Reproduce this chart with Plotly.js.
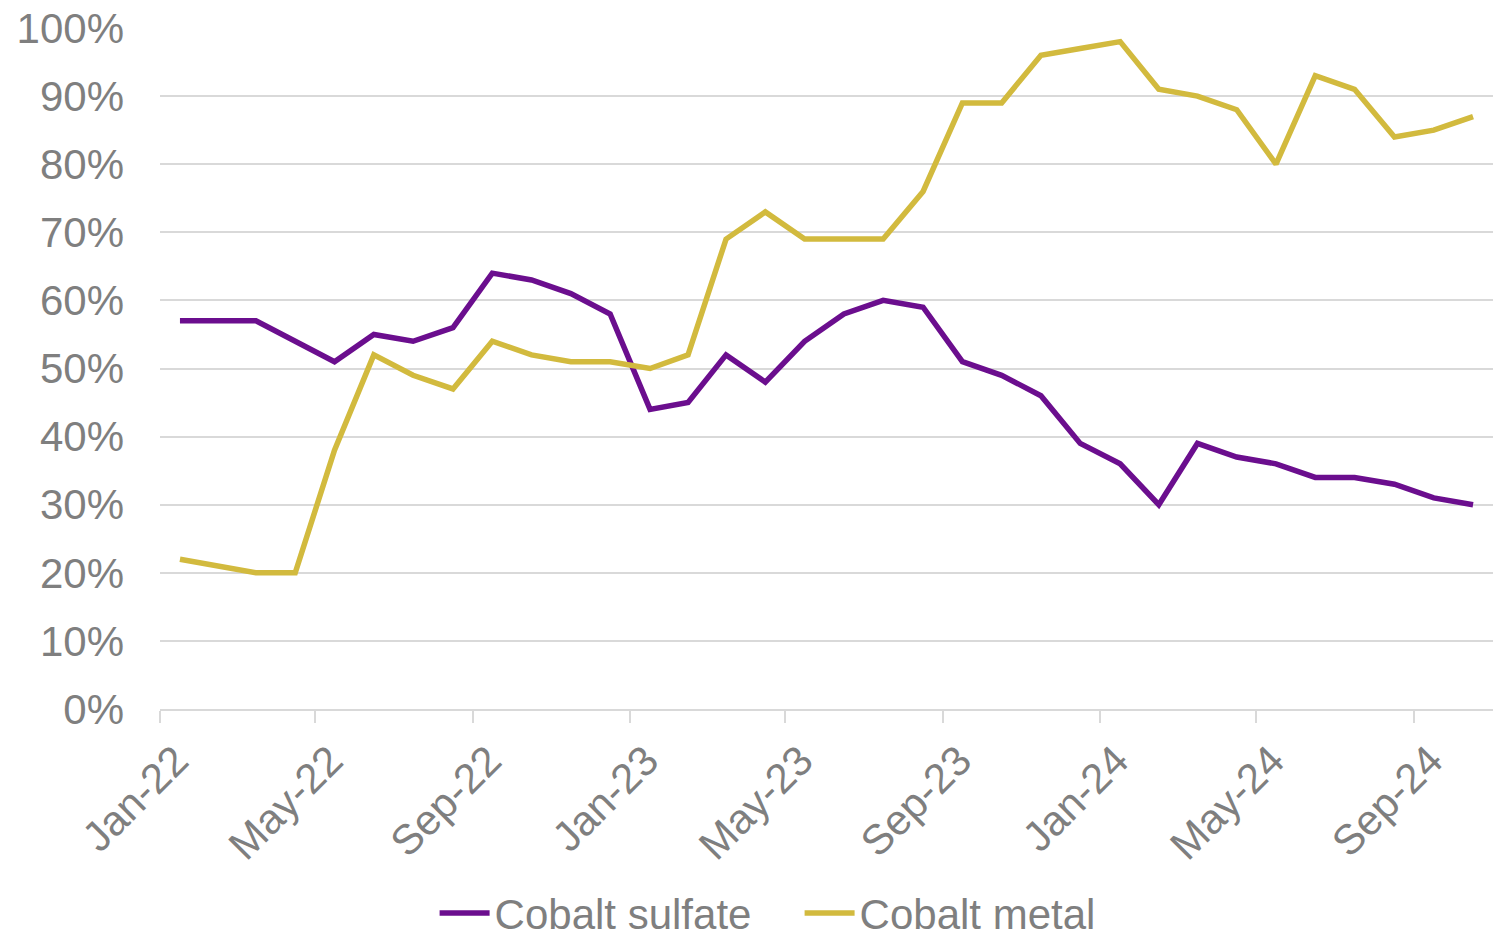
<!DOCTYPE html>
<html>
<head>
<meta charset="utf-8">
<script src="https://cdn.plot.ly/plotly-3.0.1.min.js"></script>
<style>html,body{margin:0;padding:0;background:#fff;}#chart{width:1493px;height:938px;}</style>
</head>
<body>
<div id="chart"></div>
<script>
const months = ['2022-01','2022-02','2022-03','2022-04','2022-05','2022-06','2022-07','2022-08','2022-09','2022-10','2022-11','2022-12',
                '2023-01','2023-02','2023-03','2023-04','2023-05','2023-06','2023-07','2023-08','2023-09','2023-10','2023-11','2023-12',
                '2024-01','2024-02','2024-03','2024-04','2024-05','2024-06','2024-07','2024-08','2024-09','2024-10'];
const cobaltSulfate = [0.57,0.57,0.57,0.54,0.51,0.55,0.54,0.56,0.64,0.63,0.61,0.58,
                       0.44,0.45,0.52,0.48,0.54,0.58,0.60,0.59,0.51,0.49,0.46,0.39,
                       0.36,0.30,0.39,0.37,0.36,0.34,0.34,0.33,0.31,0.30];
const cobaltMetal = [0.22,0.21,0.20,0.20,0.38,0.52,0.49,0.47,0.54,0.52,0.51,0.51,
                     0.50,0.52,0.69,0.73,0.69,0.69,0.69,0.76,0.89,0.89,0.96,0.97,
                     0.98,0.91,0.90,0.88,0.80,0.93,0.91,0.84,0.85,0.87];
const yTicks = [0,0.1,0.2,0.3,0.4,0.5,0.6,0.7,0.8,0.9,1.0];

const traces = [
  {x: months, y: cobaltSulfate, name: 'Cobalt sulfate', type: 'scatter', mode: 'lines',
   xperiod: 'M1', xperiodalignment: 'middle',
   line: {color: '#6B0E8E', width: 5.5}},
  {x: months, y: cobaltMetal, name: 'Cobalt metal', type: 'scatter', mode: 'lines',
   xperiod: 'M1', xperiodalignment: 'middle',
   line: {color: '#D2BA3E', width: 5.5}}
];

const layout = {
  width: 1493, height: 938,
  margin: {l: 160, r: 0, t: 28, b: 229, autoexpand: false},
  paper_bgcolor: '#fff', plot_bgcolor: '#fff',
  font: {family: 'Liberation Sans, Arial, sans-serif', color: '#7F7F7F', size: 42},
  showlegend: true,
  legend: {orientation: 'h', x: 0.206, xanchor: 'left', y: -0.3, yanchor: 'middle',
           font: {size: 42, color: '#7F7F7F'}, itemwidth: 50, tracegroupgap: 0,
           entrywidth: 300, entrywidthmode: 'pixels'},
  xaxis: {
    type: 'date', automargin: false,
    range: ['2022-01-01', '2024-11-01'],
    tick0: '2022-01-01', dtick: 'M4', tickformat: '%b-%y',
    tickangle: -45, ticks: 'outside', ticklen: 12, tickwidth: 2, tickcolor: '#D9D9D9',
    ticklabelshift: 16, ticklabelstandoff: -4,
    showline: true, linecolor: '#D9D9D9', linewidth: 2,
    showgrid: false, zeroline: false,
    tickfont: {size: 42, color: '#7F7F7F'}
  },
  yaxis: {
    automargin: false,
    range: [0, 1.0], tickvals: yTicks, tickformat: '.0%',
    showgrid: true, gridcolor: '#D9D9D9', gridwidth: 2,
    zeroline: false, showline: false, ticks: '',
    tickfont: {size: 42, color: '#7F7F7F'}, ticklabelstandoff: 35
  }
};

Plotly.newPlot('chart', traces, layout, {displayModeBar: false, staticPlot: true});
</script>
</body>
</html>
